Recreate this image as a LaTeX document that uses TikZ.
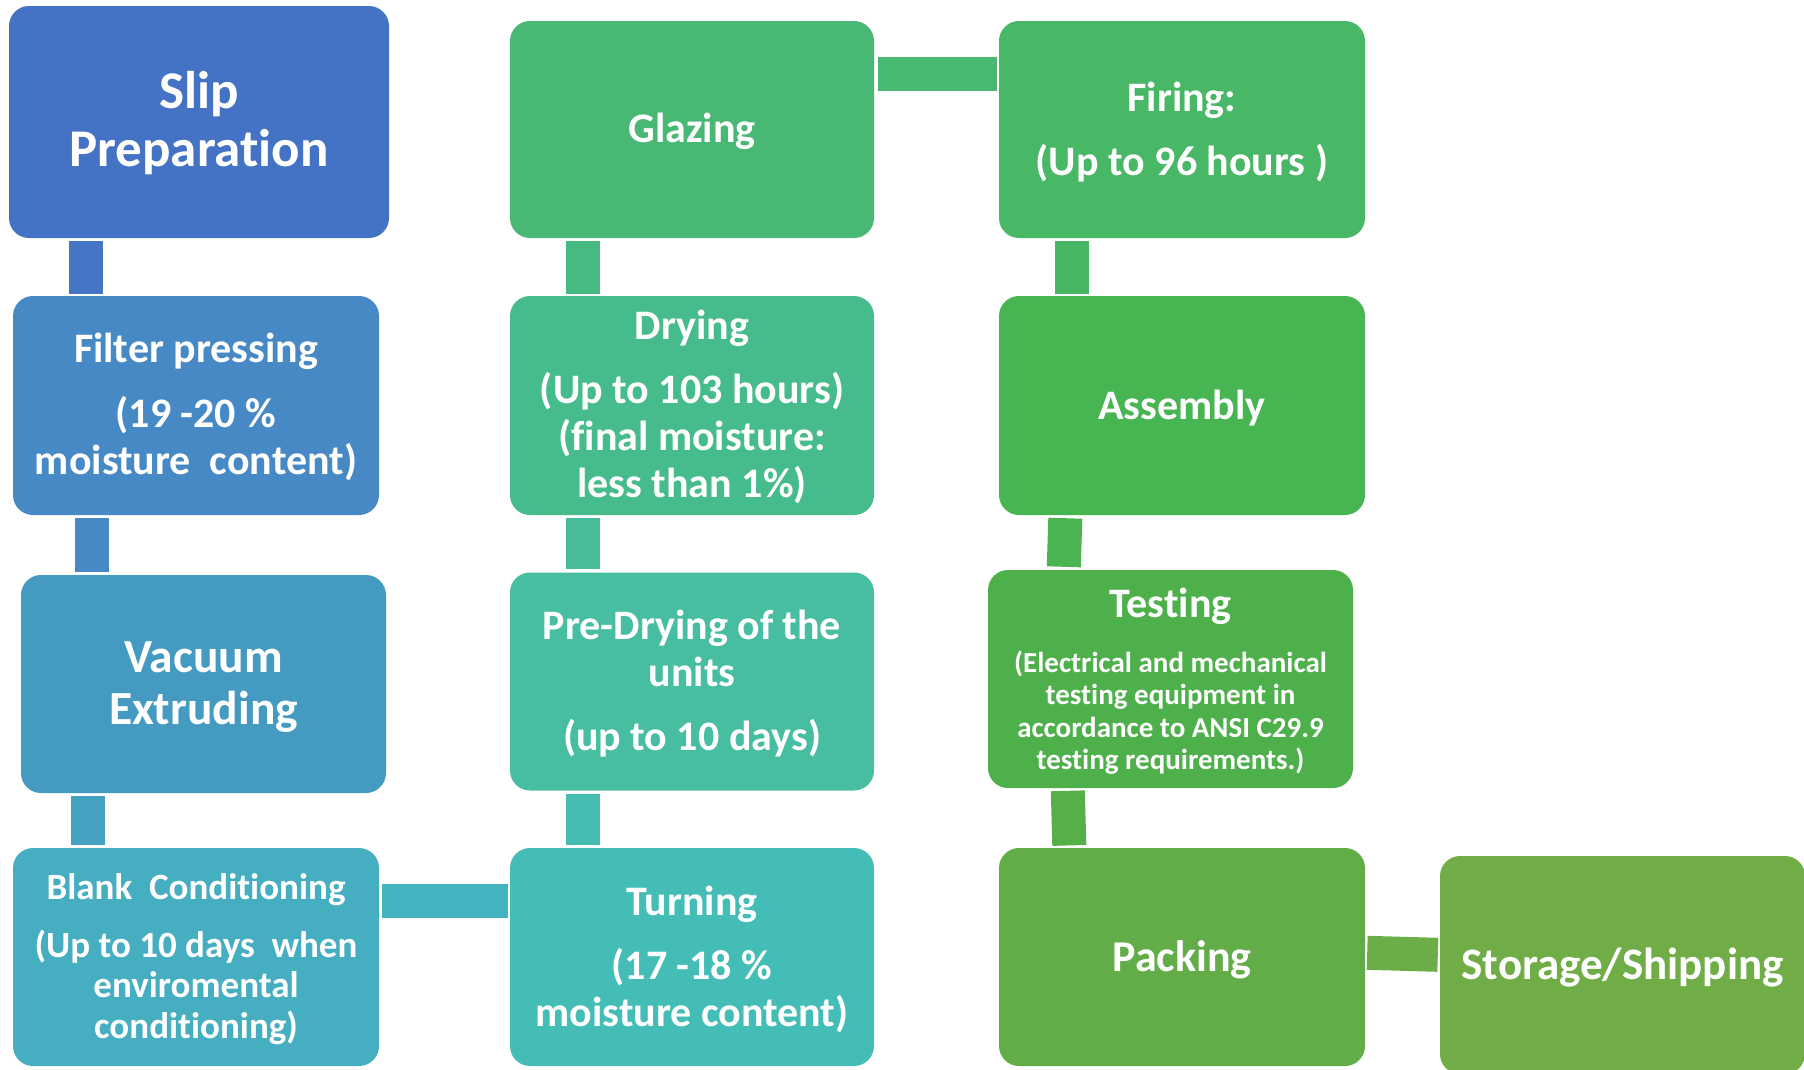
\documentclass[tikz,border=0pt]{standalone}
\usepackage{fontspec}
\setmainfont{Carlito}[Ligatures={NoCommon,NoContextual}]
\usetikzlibrary{calc}
\definecolor{cSlip}{HTML}{4472C4}
\definecolor{cFilter}{HTML}{4689C4}
\definecolor{cVac}{HTML}{449AC0}
\definecolor{cBlank}{HTML}{45AFC1}
\definecolor{cTurn}{HTML}{45BDB7}
\definecolor{cPre}{HTML}{47BDA1}
\definecolor{cDry}{HTML}{46BB8B}
\definecolor{cGlaz}{HTML}{48B874}
\definecolor{cFire}{HTML}{48B766}
\definecolor{cAsm}{HTML}{48B553}
\definecolor{cTest}{HTML}{4DB04A}
\definecolor{cPack}{HTML}{62AD47}
\definecolor{cStor}{HTML}{70AD47}
\definecolor{kA}{HTML}{4576C5}
\definecolor{kB}{HTML}{4689C4}
\definecolor{kC}{HTML}{45A1C0}
\definecolor{kD}{HTML}{44B3C0}
\definecolor{kE}{HTML}{45BDB0}
\definecolor{kF}{HTML}{46BC98}
\definecolor{kG}{HTML}{47BA82}
\definecolor{kH}{HTML}{48B872}
\definecolor{kI}{HTML}{48B763}
\definecolor{kJ}{HTML}{49B450}
\definecolor{kK}{HTML}{57AF48}
\definecolor{kL}{HTML}{6BAD47}
\tikzset{
  box/.style={rectangle, rounded corners=20pt, inner sep=0pt,
    minimum width=366pt, minimum height=218pt},
  txt/.style={inner sep=0pt, text=white, align=center,
    font=\bfseries\fontsize{42}{47}\selectfont},
  conn/.style={line width=34pt},
}
\begin{document}
\begin{tikzpicture}[x=1pt,y=-1pt]
\useasboundingbox[fill=white] (0,0) rectangle (1804,1069);
% boxes
\node[box, fill=cSlip, minimum width=380pt, minimum height=232pt] (slip) at (199,122) {};
\node[box, fill=cFilter, minimum height=219pt] (filter) at (196,405.5) {};
\node[box, fill=cVac, minimum width=365pt] (vac) at (203.5,684) {};
\node[box, fill=cBlank] (blank) at (196,957) {};
\node[box, fill=cTurn, minimum width=364pt] (turn) at (692,957) {};
\node[box, fill=cPre, minimum width=364pt] (pre) at (692,681.5) {};
\node[box, fill=cDry, minimum width=364pt, minimum height=219pt] (dry) at (692,405.5) {};
\node[box, fill=cGlaz, minimum width=364pt, minimum height=217pt] (glaz) at (692,129.5) {};
\node[box, fill=cFire, minimum height=217pt] (fire) at (1182,129.5) {};
\node[box, fill=cAsm, minimum height=219pt] (asm) at (1182,405.5) {};
\node[box, fill=cTest, minimum width=365pt] (test) at (1170.5,679) {};
\node[box, fill=cPack] (pack) at (1182,957) {};
\node[box, fill=cStor, minimum width=365pt] (stor) at (1622.5,965) {};
% texts
\node[txt, font=\bfseries\fontsize{53}{58}\selectfont] (slipT) at ($(slip.center)+(0,1.5)$) {Slip\\Preparation};
\node[txt] (filterT) at ($(filter.center)+(0,1.7)$)
  {Filter pressing\\[18pt](19 -20 \%\\moisture\ \ content)};
\node[txt, font=\bfseries\fontsize{47.5}{52}\selectfont] (vacT) at ($(vac.center)+(0,3.5)$) {Vacuum\\Extruding};
\node[txt, font=\bfseries\fontsize{37}{40.5}\selectfont] (blankT) at ($(blank.center)+(0,2.3)$)
  {Blank\ \ Conditioning\\[17pt](Up to 10 days\ \ when\\enviromental\\conditioning)};
\node[txt] (turnT) at ($(turn.center)+(0,2.3)$) {Turning\\[17pt](17 -18 \%\\moisture content)};
\node[txt] (preT) at ($(pre.center)+(0,2)$) {Pre-Drying of the\\units\\[17pt](up to 10 days)};
\node[txt] (dryT) at ($(dry.center)+(0,1.8)$)
  {Drying\\[17pt](Up to 103 hours)\\(final moisture:\\less than 1\%)};
\node[txt] (glazT) at ($(glaz.center)+(0,2.3)$) {Glazing};
\node[txt] (fireT) at ($(fire.center)+(0,2.3)$) {Firing:\\[17pt](Up to 96 hours )};
\node[txt] (asmT) at ($(asm.center)+(0,2.3)$) {Assembly};
\node[txt, font=\bfseries\fontsize{29}{32.3}\selectfont] (testT) at ($(test.center)+(0,2)$)
  {{\fontsize{42}{47}\selectfont Testing}\\[23pt](Electrical and mechanical\\testing equipment in\\accordance to ANSI C29.9\\testing requirements.)};
\node[txt, font=\bfseries\fontsize{44}{49}\selectfont] (packT) at ($(pack.center)+(0,2.3)$) {Packing};
\node[txt, font=\bfseries\fontsize{45}{50}\selectfont] (storT) at ($(stor.center)+(0,2.3)$) {Storage/Shipping};
% connectors
\draw[conn, draw=kA] ($(slip.south west)+(77.5,3)$) -- ($(filter.north west)+(73.5,-2)$);
\draw[conn, draw=kB] ($(filter.south west)+(79.5,3)$) -- ($(vac.north west)+(71.5,-3)$);
\draw[conn, draw=kC] ($(vac.south west)+(67,3)$) -- ($(blank.north west)+(75,-2.5)$);
\draw[conn, draw=kD] ($(blank.north east)+(3,53)$) -- ($(turn.north west)+(-2,53)$);
\draw[conn, draw=kE] ($(turn.north west)+(73,-2.5)$) -- ($(pre.south west)+(73,3)$);
\draw[conn, draw=kF] ($(pre.north west)+(73,-3)$) -- ($(dry.south west)+(73,3)$);
\draw[conn, draw=kG] ($(dry.north west)+(73,-2)$) -- ($(glaz.south west)+(73,3)$);
\draw[conn, draw=kH] ($(glaz.north east)+(4,53)$) -- ($(fire.north west)+(-2,53)$);
\draw[conn, draw=kI] ($(fire.south west)+(73,3)$) -- ($(asm.north west)+(73,-2)$);
\draw[conn, draw=kJ] ($(asm.south west)+(66.5,3)$) -- ($(test.north west)+(76,-3)$);
\draw[conn, draw=kK] ($(test.south west)+(80,2.6)$) -- ($(pack.north west)+(70.5,-2.4)$);
\draw[conn, draw=kL] ($(pack.north east)+(2,105)$) -- ($(stor.north west)+(-2,99)$);
\end{tikzpicture}
\end{document}
